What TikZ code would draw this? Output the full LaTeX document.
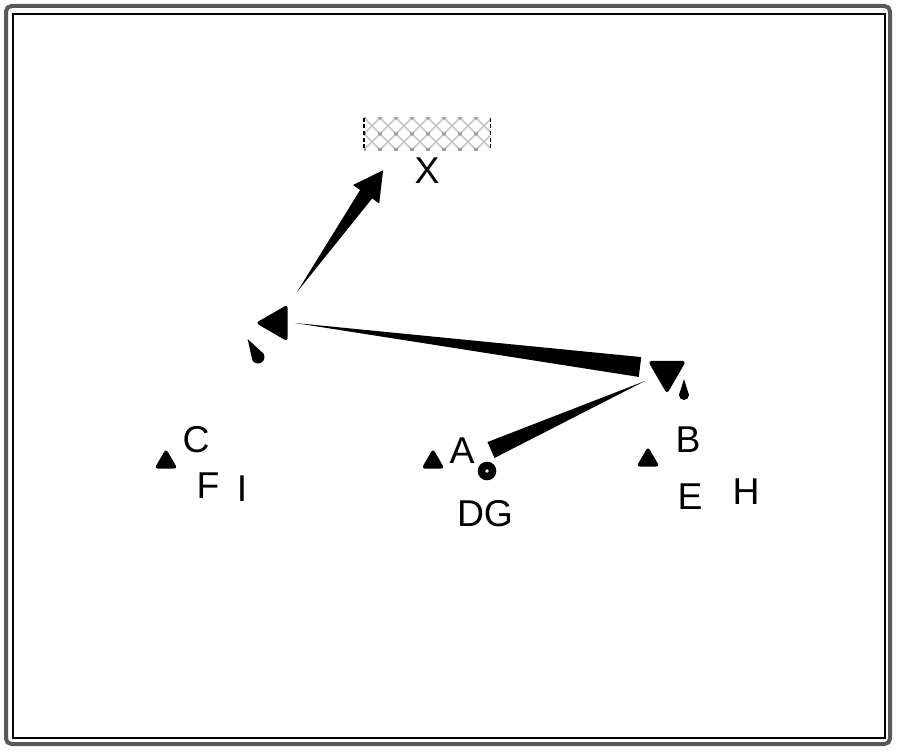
\documentclass[tikz,border=0pt]{standalone}
\usepackage{fontspec}
\setmainfont{Liberation Sans}
\usetikzlibrary{shapes.geometric,calc}
\newcommand\mytaper[3]{\fill (#1) -- ($(#2)!#3!90:(#1)$) -- ($(#2)!#3!-90:(#1)$) -- cycle;}
\tikzset{
  lbl/.style={inner sep=0pt, font=\fontsize{28}{28}\selectfont},
  tri/.style={regular polygon, regular polygon sides=3, fill=black, draw=black, line width=1.5pt, rounded corners=1.5pt, inner sep=0pt},
  smalltri/.style={tri, minimum size=17pt},
  drop/.pic={\fill (-5,0) -- (0,-16) -- (5,0) arc[start angle=0,end angle=180,radius=5] -- cycle;}
}
\begin{document}
\begin{tikzpicture}[x=0.75pt,y=-0.75pt]
\useasboundingbox (0,0) rectangle (900,752);
\fill[white] (0,0) rectangle (900,752);
% frame
\draw[gray!70!black, line width=3pt, rounded corners=4pt] (6,6) rectangle (890,744);
\draw[black, line width=1pt] (13,14) rectangle (885,738);

% hatched rectangle
\node (hx) [minimum width=94pt, minimum height=24pt, inner sep=0pt] at (427,134) {};
\begin{scope}
  \clip (hx.south west) rectangle (hx.north east);
  \foreach \i in {-4,...,12} {
    \draw[gray!45, line width=1.2pt] ($(hx.north west)+(\i*16,0)$) -- ++(40,40);
    \draw[gray!45, line width=1.2pt] ($(hx.north west)+(\i*16,0)$) -- ++(-40,40);
  }
  \foreach \i in {0,...,8} \foreach \j in {0,1,2} {
    \fill[gray!75] ($(hx.north west)+(\i*16,\j*16)$) circle (2);
  }
\end{scope}
\draw[black, densely dashed, line width=1pt] (hx.north west) -- (hx.south west);
\draw[black, densely dashed, line width=0.6pt] (hx.north east) -- (hx.south east);
\node[lbl] (lx) at (427,171) {X};

% triangles
\node[tri, minimum size=29pt, shape border rotate=90] (tl) at (277,323) {};
\node[tri, minimum size=30pt, shape border rotate=180] (td) at (667,372) {};
\node[smalltri] (t1) at (166,462) {};
\node[smalltri] (t2) at (433,462) {};
\node[smalltri] (t3) at (648,460) {};

% circle
\node[circle, fill=black, minimum size=14pt, inner sep=0pt] (ci) at (487,471) {};
\fill[white] (ci) circle (1.8);

% drops
\pic[rotate=30, scale=1.3] at (258,357) {drop};
\pic at (684,395) {drop};

% tapered bar tl -> td
\coordinate (b1s) at ($(tl)+(18,0)$);
\coordinate (b1e) at ($(td)+(-27,-5)$);
\mytaper{b1s}{b1e}{7.5pt}
% tapered bar td -> ci
\coordinate (b2s) at ($(td)+(-22,9)$);
\coordinate (b2e) at ($(ci)+(4,-21)$);
\mytaper{b2s}{b2e}{6.5pt}

% arrow tl -> hx
\coordinate (as) at ($(tl)+(20,-31)$);
\coordinate (at) at ($(hx.south west)+(19,20)$);
\coordinate (an) at ($(at)!22pt!(as)$);
\fill (as) -- ($(an)!5.5pt!90:(at)$) -- ($(an)!12pt!90:(at)$) -- (at)
      -- ($(an)!12pt!-90:(at)$) -- ($(an)!5.5pt!-90:(at)$) -- cycle;

% labels
\node[lbl] (lc) at (196,440) {C};
\node[lbl] (lf) at (208,486) {F};
\node[lbl] (li) at (242,489) {I};
\node[lbl] (la) at (462,451) {A};
\node[lbl] (ldg) at (485,514) {DG};
\node[lbl] (lb) at (688,440) {B};
\node[lbl] (le) at (690,497) {E};
\node[lbl] (lh) at (746,492) {H};
\end{tikzpicture}
\end{document}
